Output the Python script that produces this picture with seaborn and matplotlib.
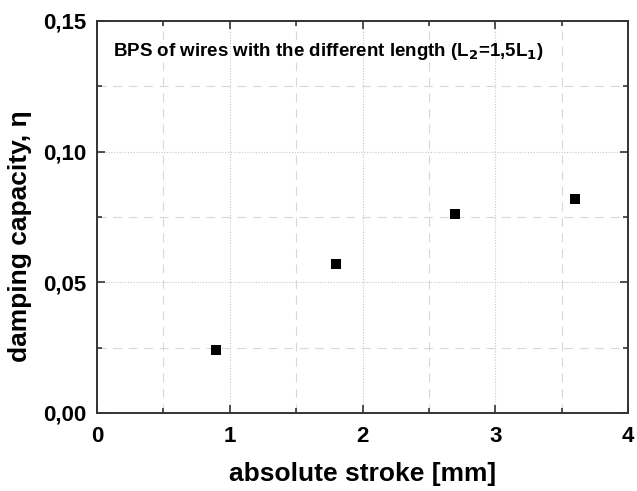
import matplotlib
matplotlib.use("Agg")
import matplotlib.pyplot as plt
import seaborn as sns
import pandas as pd
from matplotlib.ticker import MultipleLocator, FuncFormatter

# Measured damping capacity versus absolute stroke
stroke_mm = [0.9, 1.8, 2.7, 3.6]
damping = [0.024, 0.057, 0.076, 0.082]
x_ticks = [0, 1, 2, 3, 4]
y_ticks = [0.00, 0.05, 0.10, 0.15]

df = pd.DataFrame({"stroke": stroke_mm, "eta": damping})

sns.set_theme(style="white")
plt.rcParams["font.family"] = ["Liberation Sans", "DejaVu Sans"]
plt.rcParams["text.color"] = "black"
plt.rcParams["axes.labelcolor"] = "black"
plt.rcParams["xtick.color"] = "black"
plt.rcParams["ytick.color"] = "black"

fig = plt.figure(figsize=(6.37, 4.91), dpi=100)
ax = fig.add_axes([97 / 637, 1 - 413 / 491, (628 - 97) / 637, (413 - 21) / 491])

sns.scatterplot(data=df, x="stroke", y="eta", ax=ax, marker="s", s=55,
                color="black", edgecolor="black", linewidth=0, zorder=3)

ax.set_xlim(0, 4)
ax.set_ylim(0, 0.15)
ax.set_xticks(x_ticks)
ax.set_yticks(y_ticks)
ax.xaxis.set_minor_locator(MultipleLocator(0.5))
ax.yaxis.set_minor_locator(MultipleLocator(0.025))
ax.yaxis.set_major_formatter(FuncFormatter(lambda v, p: f"{v:.2f}".replace(".", ",")))
ax.xaxis.set_major_formatter(FuncFormatter(lambda v, p: f"{v:g}"))

ax.grid(True, which="major", color="#c8c8c8", linestyle=(0, (1, 1.5)), linewidth=0.8)
ax.grid(True, which="minor", color="#d8d8d8", linestyle=(0, (8, 6)), linewidth=0.8)
ax.set_axisbelow(True)

for sp in ax.spines.values():
    sp.set_color("#333333")
    sp.set_linewidth(1.4)

ax.tick_params(which="both", direction="in", top=True, right=True,
               bottom=True, left=True, color="#333333", width=1.2)
ax.tick_params(which="major", length=6, labelsize=16)
ax.tick_params(axis="x", which="major", pad=9)
ax.tick_params(axis="y", which="major", pad=8)
ax.tick_params(which="minor", length=3.5)
for lab in ax.get_xticklabels() + ax.get_yticklabels():
    lab.set_fontweight("bold")

ax.set_xlabel("absolute stroke [mm]", fontsize=19, fontweight="bold", labelpad=11)
ax.set_ylabel("damping capacity, \u03b7", fontsize=19, fontweight="bold")
ax.yaxis.set_label_coords(-0.122, 0.452)

ax.text(0.03, 0.921, r"BPS of wires with the different length (L$_\mathbf{2}$=1,5L$_\mathbf{1}$)",
        transform=ax.transAxes, fontsize=13.5, fontweight="bold", va="center", ha="left")

fig.savefig("out.png", dpi=100)
